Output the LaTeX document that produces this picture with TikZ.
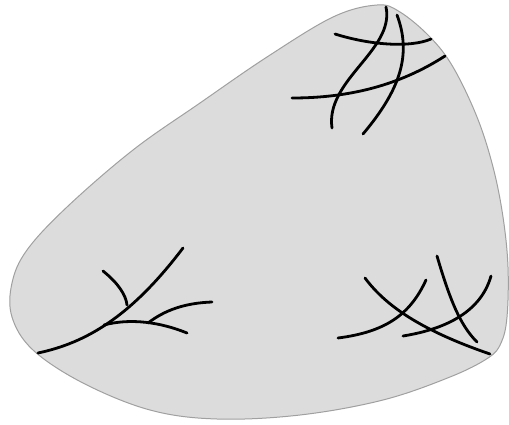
\documentclass[tikz,border=0pt]{standalone}
\begin{document}
\begin{tikzpicture}[x=1pt,y=-1pt,
  blob/.style={fill={rgb,255:red,220;green,220;blue,220},draw={rgb,255:red,160;green,160;blue,160},line width=1pt},
  strand/.style={draw=black,line width=2.8pt,line cap=round}]
\useasboundingbox (0,0) rectangle (509,424);
\draw[blob] plot[smooth cycle,tension=0.6] coordinates{
 (377,5) (400,12) (430,37) (453,67) (477,117) (493,167) (503,217) (508,267) (507,317) (501,343) (488,358)
 (450,377) (383,400) (300,415) (217,419) (150,410) (83,383) (33,350) (12,317) (12,283) (27,250)
 (67,207) (133,150) (200,103) (267,57) (333,17)};
% top cluster
\draw[strand] (335,34) .. controls (370,45) and (410,48) .. (431,39);
\draw[strand] (386,7) .. controls (395,50) and (325,80) .. (332,128);
\draw[strand] (397,15) .. controls (412,55) and (400,90) .. (363,134);
\draw[strand] (292,98) .. controls (350,98) and (400,85) .. (445,56);
% lower-left cluster
\draw[strand] (38,353) .. controls (85,343) and (130,318) .. (183,248);
\draw[strand] (103,271) .. controls (118,283) and (126,295) .. (127,305);
\draw[strand] (104,325) .. controls (130,318) and (160,322) .. (187,333);
\draw[strand] (148,323) .. controls (165,310) and (185,303) .. (212,302);
% lower-right cluster
\draw[strand] (365,278) .. controls (385,305) and (420,330) .. (490,354);
\draw[strand] (338,338) .. controls (385,332) and (410,315) .. (426,280);
\draw[strand] (437,256) .. controls (450,300) and (460,325) .. (477,342);
\draw[strand] (403,336) .. controls (440,330) and (480,315) .. (491,276);
\end{tikzpicture}
\end{document}
